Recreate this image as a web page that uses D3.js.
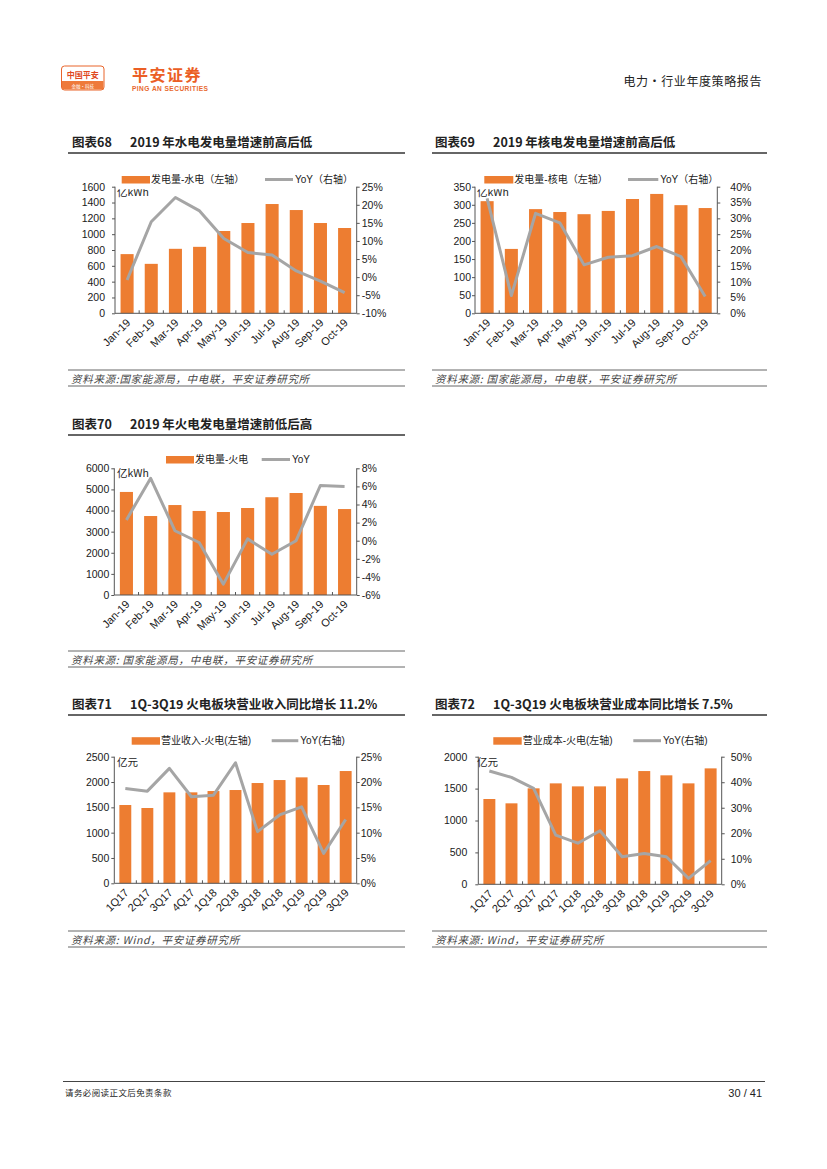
<!DOCTYPE html>
<html>
<head>
<meta charset="utf-8">
<script src="https://cdn.jsdelivr.net/npm/d3@7"></script>
<style>
  body { margin:0; background:#fff; }
  svg { display:block; }
  text { font-family:"Liberation Sans", Arial, "Noto Sans CJK SC", sans-serif; fill:#222; }
  .cn { font-family:"Noto Sans CJK SC", "Liberation Sans", sans-serif; }
</style>
</head>
<body>
<svg id="page" width="827" height="1169"></svg>
<script>
// ---- data ----
var months = ['Jan-19','Feb-19','Mar-19','Apr-19','May-19','Jun-19','Jul-19','Aug-19','Sep-19','Oct-19'];
var quarters = ['1Q17','2Q17','3Q17','4Q17','1Q18','2Q18','3Q18','4Q18','1Q19','2Q19','3Q19'];

var hydroGen = [748, 625, 815, 840, 1040, 1141, 1381, 1305, 1141, 1078];
var hydroYoY = [-0.8, 15.3, 22.0, 18.3, 10.7, 6.8, 6.1, 1.7, -1.1, -4.3];
var hydroLeftTicks = [0,200,400,600,800,1000,1200,1400,1600];
var hydroRightTicks = [-10,-5,0,5,10,15,20,25];

var nuclearGen = [310, 178, 288, 280, 274, 283, 316, 330, 299, 291];
var nuclearYoY = [36.3, 5.6, 31.6, 28.6, 15.3, 17.7, 18.2, 21.1, 17.9, 5.3];
var nuclearLeftTicks = [0,50,100,150,200,250,300,350];
var nuclearRightTicks = [0,5,10,15,20,25,30,35,40];

var thermalGen = [4880, 3740, 4260, 3980, 3930, 4120, 4630, 4830, 4220, 4070];
var thermalYoY = [2.3, 6.9, 1.1, -0.2, -4.8, 0.2, -1.5, 0.0, 6.1, 6.0];
var thermalLeftTicks = [0,1000,2000,3000,4000,5000,6000];
var thermalRightTicks = [-6,-4,-2,0,2,4,6,8];

var revenue = [1546, 1487, 1796, 1796, 1822, 1842, 1980, 2039, 2092, 1941, 2217];
var revenueYoY = [18.7, 18.2, 22.7, 17.1, 17.4, 23.8, 10.2, 13.5, 15.1, 5.9, 12.6];
var revenueLeftTicks = [0,500,1000,1500,2000,2500];
var revenueRightTicks = [0,5,10,15,20,25];

var cost = [1337, 1269, 1504, 1582, 1535, 1535, 1660, 1775, 1708, 1582, 1817];
var costYoY = [44.4, 41.9, 37.6, 19.3, 16.1, 21.0, 10.8, 12.1, 10.8, 2.3, 9.3];
var costLeftTicks = [0,500,1000,1500,2000];
var costRightTicks = [0,10,20,30,40,50];

var ORANGE = '#ED7D31', GREY = '#A5A5A5', AXIS = '#555';

var svg = d3.select('#page');
svg.append('rect').attr('width',827).attr('height',1169).attr('fill','#fff');

// ---- page header ----
var hdr = svg.append('g');
hdr.append('rect').attr('x',61.5).attr('y',66).attr('width',42.5).attr('height',24).attr('rx',3)
  .attr('fill','#fff').attr('stroke','#E9652A').attr('stroke-width',1);
hdr.append('rect').attr('x',62).attr('y',81).attr('width',41.5).attr('height',8.5).attr('fill','#EE7A3B');
hdr.append('text').attr('class','cn').attr('x',82.7).attr('y',78).attr('text-anchor','middle')
  .attr('font-size','8px').attr('font-weight','bold').style('fill','#E0481F').text('中国平安');
hdr.append('text').attr('class','cn').attr('x',82.7).attr('y',87.5).attr('text-anchor','middle')
  .attr('font-size','4.5px').style('fill','#fff').text('金融·科技');
hdr.append('text').attr('class','cn').attr('x',132).attr('y',81).attr('font-size','16px')
  .attr('font-weight','bold').attr('letter-spacing','1.5').style('fill','#EB5E25').text('平安证券');
hdr.append('text').attr('x',132).attr('y',91).attr('font-size','6.6px').attr('font-weight','bold')
  .attr('textLength',76).style('fill','#E8692F').text('PING AN SECURITIES');
hdr.append('text').attr('class','cn').attr('x',762).attr('y',86).attr('text-anchor','end')
  .attr('font-size','12px').attr('letter-spacing','0.6').style('fill','#222').text('电力·行业年度策略报告');

// ---- page footer ----
svg.append('line').attr('x1',63).attr('x2',765).attr('y1',1081.5).attr('y2',1081.5)
  .attr('stroke','#444').attr('stroke-width',1);
svg.append('text').attr('class','cn').attr('x',65).attr('y',1096).attr('font-size','8.5px')
  .attr('letter-spacing','0.4').text('请务必阅读正文后免责条款');
svg.append('text').attr('x',762).attr('y',1097).attr('text-anchor','end').attr('font-size','11px')
  .text('30 / 41');

// ---- one panel: title, legend, bars, line, axes, source ----
function panel(o) {
  var g = svg.append('g');

  // title + rule
  g.append('text').attr('class','cn').attr('x',o.titleX).attr('y',o.titleY)
    .attr('font-size','12.5px').attr('font-weight','bold').text(o.figNo);
  g.append('text').attr('class','cn').attr('x',o.titleX+58).attr('y',o.titleY)
    .attr('font-size','12.5px').attr('font-weight','bold').text(o.title);
  g.append('line').attr('x1',o.ruleX1).attr('x2',o.ruleX2).attr('y1',o.titleY+6).attr('y2',o.titleY+6)
    .attr('stroke','#333').attr('stroke-width',1.3);

  // source with rules
  g.append('line').attr('x1',o.ruleX1).attr('x2',o.ruleX2).attr('y1',o.srcY-9).attr('y2',o.srcY-9)
    .attr('stroke','#666').attr('stroke-width',1);
  g.append('line').attr('x1',o.ruleX1).attr('x2',o.ruleX2).attr('y1',o.srcY+7).attr('y2',o.srcY+7)
    .attr('stroke','#666').attr('stroke-width',1);
  g.append('text').attr('class','cn').attr('x',o.ruleX1+3).attr('y',o.srcY+4)
    .attr('font-size','10.5px').attr('letter-spacing','0.7').style('font-style','italic')
    .style('fill','#444').text(o.source);

  // scales
  var x = d3.scaleBand().domain(o.cats).range([o.left,o.right]).paddingInner(0.46).paddingOuter(0.23);
  var yL = d3.scaleLinear().domain(d3.extent(o.leftTicks)).range([o.bottom,o.top]);
  var yR = d3.scaleLinear().domain(d3.extent(o.rightTicks)).range([o.bottom,o.top]);

  // legend
  var lg = g.append('g').attr('class','cn').attr('font-size','10px');
  lg.append('rect').attr('x',o.leg[0]).attr('y',o.legY-3.5).attr('width',o.leg[1]-o.leg[0]).attr('height',7.5)
    .attr('fill',ORANGE);
  lg.append('text').attr('x',o.leg[1]+1).attr('y',o.legY+3.5).text(o.barName);
  lg.append('line').attr('x1',o.leg[2]).attr('x2',o.leg[3]).attr('y1',o.legY).attr('y2',o.legY)
    .attr('stroke',GREY).attr('stroke-width',3);
  lg.append('text').attr('x',o.leg[3]+2).attr('y',o.legY+3.5).text(o.lineName);

  // bars
  g.append('g').selectAll('rect').data(o.bars).enter().append('rect')
    .attr('x', function(d,i){ return x(o.cats[i]); })
    .attr('y', function(d){ return yL(d); })
    .attr('width', x.bandwidth())
    .attr('height', function(d){ return o.bottom - yL(d); })
    .attr('fill', ORANGE);

  // line
  var line = d3.line()
    .x(function(d,i){ return x(o.cats[i]) + x.bandwidth()/2; })
    .y(function(d){ return yR(d); });
  g.append('path').datum(o.yoy).attr('d',line).attr('fill','none')
    .attr('stroke',GREY).attr('stroke-width',3).attr('stroke-linejoin','round');

  // axes
  var axL = d3.axisLeft(yL).tickValues(o.leftTicks).tickSize(3).tickPadding(o.lPad).tickFormat(d3.format('d'));
  var gl = g.append('g').attr('transform','translate('+o.left+',0)').call(axL);
  var axR = d3.axisRight(yR).tickValues(o.rightTicks).tickSize(3).tickPadding(o.rPad)
    .tickFormat(function(d){ return d + '%'; });
  var gr = g.append('g').attr('transform','translate('+o.right+',0)').call(axR);
  [gl,gr].forEach(function(a){
    a.selectAll('path,line').attr('stroke',AXIS);
    a.selectAll('text').attr('font-size','10.5px').style('fill','#1a1a1a')
      .attr('font-family','"Liberation Sans", Arial, sans-serif');
    a.select('.domain').attr('d', 'M0,'+o.top+'V'+o.bottom);
  });

  // category axis: baseline + inner ticks at band boundaries
  g.append('line').attr('x1',o.left).attr('x2',o.right).attr('y1',o.bottom).attr('y2',o.bottom)
    .attr('stroke',AXIS);
  var step = x.step();
  g.append('g').selectAll('line').data(o.cats.slice(1)).enter().append('line')
    .attr('x1', function(d){ return x(d) - step*0.23; })
    .attr('x2', function(d){ return x(d) - step*0.23; })
    .attr('y1', o.bottom).attr('y2', o.bottom-3).attr('stroke',AXIS);
  g.append('g').selectAll('text').data(o.cats).enter().append('text')
    .attr('transform', function(d){
      return 'translate(' + (x(d) + x.bandwidth()/2 + 4) + ',' + (o.bottom + 10) + ') rotate(-45)';
    })
    .attr('text-anchor','end').attr('font-size','11px').style('fill','#1a1a1a').text(function(d){ return d; });

  // unit label inside the plot top-left (clipped at the plot top in some panels)
  var cid = 'clip' + o.figNo.replace(/\D/g,'');
  svg.append('clipPath').attr('id',cid).append('rect')
    .attr('x',o.left-10).attr('y',o.top + (o.unitClip ? 2.5 : -10)).attr('width',80).attr('height',40);
  g.append('text').attr('class','cn').attr('clip-path','url(#'+cid+')')
    .attr('x',o.unitX).attr('y',o.unitY).attr('font-size','10.5px').text(o.unit);
}

panel({ figNo:'图表68', title:'2019 年水电发电量增速前高后低', titleX:72, titleY:147, ruleX1:68, ruleX2:405,
  srcY:379, source:'资料来源:国家能源局，中电联，平安证券研究所',
  cats:months, bars:hydroGen, yoy:hydroYoY, leftTicks:hydroLeftTicks, rightTicks:hydroRightTicks,
  left:115, right:356.7, top:186.7, bottom:313.3, lPad:7, rPad:2,
  legY:179.5, leg:[121.7,150,265,293], barName:'发电量-水电（左轴）', lineName:'YoY（右轴）',
  unit:'亿kWh', unitX:117, unitY:196, unitClip:true });

panel({ figNo:'图表69', title:'2019 年核电发电量增速前高后低', titleX:435, titleY:147, ruleX1:432, ruleX2:767,
  srcY:379, source:'资料来源: 国家能源局，中电联，平安证券研究所',
  cats:months, bars:nuclearGen, yoy:nuclearYoY, leftTicks:nuclearLeftTicks, rightTicks:nuclearRightTicks,
  left:475, right:717.3, top:186.7, bottom:313.3, lPad:1, rPad:10,
  legY:179.5, leg:[484.3,513.3,628,658.3], barName:'发电量-核电（左轴）', lineName:'YoY（右轴）',
  unit:'亿kWh', unitX:477, unitY:196, unitClip:true });

panel({ figNo:'图表70', title:'2019 年火电发电量增速前低后高', titleX:72, titleY:429, ruleX1:68, ruleX2:405,
  srcY:660, source:'资料来源: 国家能源局，中电联，平安证券研究所',
  cats:months, bars:thermalGen, yoy:thermalYoY, leftTicks:thermalLeftTicks, rightTicks:thermalRightTicks,
  left:114.3, right:356.7, top:468.3, bottom:595, lPad:2, rPad:2,
  legY:459.5, leg:[166,194,261.7,290], barName:'发电量-火电', lineName:'YoY',
  unit:'亿kWh', unitX:117, unitY:477, unitClip:false });

panel({ figNo:'图表71', title:'1Q-3Q19 火电板块营业收入同比增长 11.2%', titleX:72, titleY:709, ruleX1:68, ruleX2:405,
  srcY:940, source:'资料来源: Wind，平安证券研究所',
  cats:quarters, bars:revenue, yoy:revenueYoY, leftTicks:revenueLeftTicks, rightTicks:revenueRightTicks,
  left:114.3, right:356.7, top:756.7, bottom:883.3, lPad:2, rPad:1,
  legY:740.7, leg:[131.7,160,271.7,298.3], barName:'营业收入-火电(左轴)', lineName:'YoY(右轴)',
  unit:'亿元', unitX:117, unitY:766, unitClip:false });

panel({ figNo:'图表72', title:'1Q-3Q19 火电板块营业成本同比增长 7.5%', titleX:435, titleY:709, ruleX1:432, ruleX2:767,
  srcY:940, source:'资料来源: Wind，平安证券研究所',
  cats:quarters, bars:cost, yoy:costYoY, leftTicks:costLeftTicks, rightTicks:costRightTicks,
  left:478.3, right:721.7, top:756.7, bottom:884.3, lPad:8, rPad:6,
  legY:740.7, leg:[493.3,521.7,633.3,661], barName:'营业成本-火电(左轴)', lineName:'YoY(右轴)',
  unit:'亿元', unitX:477, unitY:766, unitClip:false });
</script>
</body>
</html>
